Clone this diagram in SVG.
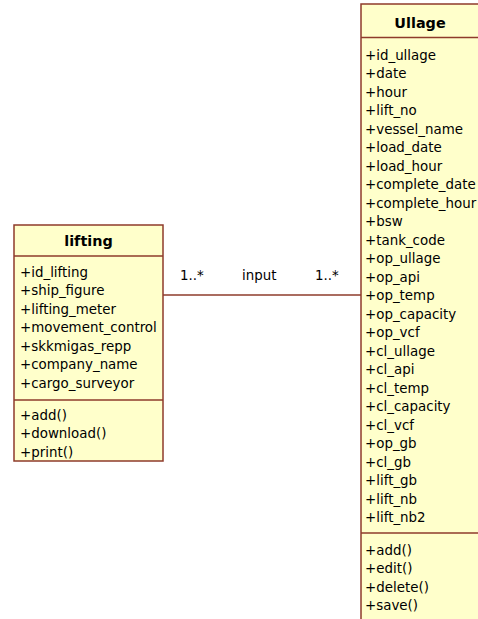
<svg xmlns="http://www.w3.org/2000/svg" width="478" height="619" viewBox="0 0 478 619">
  <style>
    .box { fill: #FFFFCB; stroke: #8E3B2B; stroke-width: 1.5; }
    .sep { stroke: #8E3B2B; stroke-width: 1.5; }
    .t { font-family: "DejaVu Sans", Verdana, sans-serif; font-size: 13.4px; fill: #000; }
    .h { font-family: "DejaVu Sans", Verdana, sans-serif; font-size: 14.4px; font-weight: bold; fill: #000; text-anchor: middle; }
    .edge { stroke: #8E3B2B; stroke-width: 1.5; fill: none; }
  </style>
  <rect width="478" height="619" fill="#FFFFFF"/>

  <!-- association between the two classes -->
  <g id="connectors">
    <line class="edge" x1="163" y1="295" x2="361" y2="295"/>
    <text class="t" x="180" y="280">1..*</text>
    <text class="t" x="242" y="280">input</text>
    <text class="t" x="315" y="280">1..*</text>
  </g>

  <!-- class: lifting -->
  <g id="lifting">
    <rect class="box" x="14" y="225" width="149" height="236"/>
    <line class="sep" x1="14" y1="256" x2="163" y2="256"/>
    <line class="sep" x1="14" y1="400" x2="163" y2="400"/>
    <text class="h" x="88.5" y="245.5">lifting</text>
    <text class="t" x="20" y="276.5">+id_lifting</text>
    <text class="t" x="20" y="295">+ship_figure</text>
    <text class="t" x="20" y="313.5">+lifting_meter</text>
    <text class="t" x="20" y="332">+movement_control</text>
    <text class="t" x="20" y="350.5">+skkmigas_repp</text>
    <text class="t" x="20" y="369">+company_name</text>
    <text class="t" x="20" y="387.5">+cargo_surveyor</text>
    <text class="t" x="20" y="419.5">+add()</text>
    <text class="t" x="20" y="438">+download()</text>
    <text class="t" x="20" y="456.5">+print()</text>
  </g>

  <!-- class: Ullage -->
  <g id="Ullage">
    <rect class="box" x="361" y="4" width="118" height="625"/>
    <line class="sep" x1="361" y1="37.5" x2="479" y2="37.5"/>
    <line class="sep" x1="361" y1="533" x2="479" y2="533"/>
    <text class="h" x="420" y="27.5">Ullage</text>
    <text class="t" x="365" y="59.5">+id_ullage</text>
    <text class="t" x="365" y="78">+date</text>
    <text class="t" x="365" y="96.5">+hour</text>
    <text class="t" x="365" y="115">+lift_no</text>
    <text class="t" x="365" y="133.5">+vessel_name</text>
    <text class="t" x="365" y="152">+load_date</text>
    <text class="t" x="365" y="170.5">+load_hour</text>
    <text class="t" x="365" y="189">+complete_date</text>
    <text class="t" x="365" y="207.5">+complete_hour</text>
    <text class="t" x="365" y="226">+bsw</text>
    <text class="t" x="365" y="244.5">+tank_code</text>
    <text class="t" x="365" y="263">+op_ullage</text>
    <text class="t" x="365" y="281.5">+op_api</text>
    <text class="t" x="365" y="300">+op_temp</text>
    <text class="t" x="365" y="318.5">+op_capacity</text>
    <text class="t" x="365" y="337">+op_vcf</text>
    <text class="t" x="365" y="355.5">+cl_ullage</text>
    <text class="t" x="365" y="374">+cl_api</text>
    <text class="t" x="365" y="392.5">+cl_temp</text>
    <text class="t" x="365" y="411">+cl_capacity</text>
    <text class="t" x="365" y="429.5">+cl_vcf</text>
    <text class="t" x="365" y="448">+op_gb</text>
    <text class="t" x="365" y="466.5">+cl_gb</text>
    <text class="t" x="365" y="485">+lift_gb</text>
    <text class="t" x="365" y="503.5">+lift_nb</text>
    <text class="t" x="365" y="522">+lift_nb2</text>
    <text class="t" x="365" y="554.5">+add()</text>
    <text class="t" x="365" y="573">+edit()</text>
    <text class="t" x="365" y="591.5">+delete()</text>
    <text class="t" x="365" y="610">+save()</text>
  </g>
</svg>
